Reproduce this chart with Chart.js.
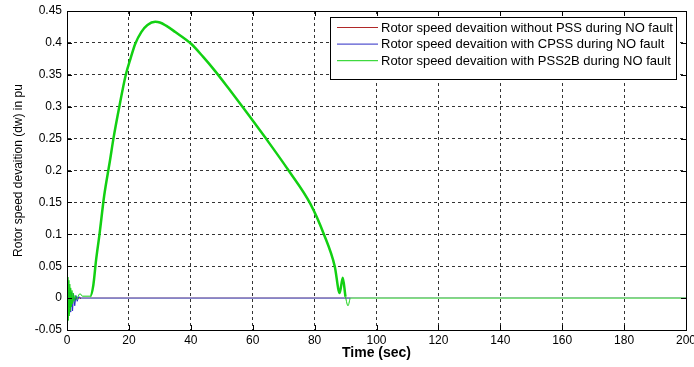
<!DOCTYPE html>
<html>
<head>
<meta charset="utf-8">
<script src="https://cdn.jsdelivr.net/npm/chart.js@4.4.1/dist/chart.umd.min.js"></script>
<style>
  html, body { margin: 0; padding: 0; background: #fff; }
  #wrap { width: 694px; height: 367px; }
</style>
</head>
<body>
<div id="wrap"><canvas id="speedChart" width="694" height="367"></canvas></div>
<script>
// tick labels
const xTickLabels = ['0', '20', '40', '60', '80', '100', '120', '140', '160', '180', '200'];
const yTickLabels = ['-0.05', '0', '0.05', '0.1', '0.15', '0.2', '0.25', '0.3', '0.35', '0.4', '0.45'];

const seriesNames = [
  'Rotor speed devaition without PSS during NO fault',
  'Rotor speed devaition with CPSS during NO fault',
  'Rotor speed devaition with PSS2B during NO fault'
];

// without PSS (hidden under the others)
const noPssTime = [0, 0.5, 1, 1.5, 2, 3, 200];
const noPssDev  = [0, 0.004, -0.004, 0.002, -0.002, 0, 0];

// CPSS
const cpssTime = [0, 0.3, 0.6, 0.9, 1.2, 1.5, 1.8, 2.1, 2.5, 2.9, 3.3, 3.8, 4.5, 200];
const cpssDev  = [0, 0.012, -0.015, 0.01, -0.022, 0.009, -0.02, 0.007, -0.012, 0.004, -0.005, 0.002, 0, 0];

// PSS2B
const pss2bTime = [0, 0.15, 0.3, 0.45, 0.6, 0.75, 0.9, 1.05, 1.2, 1.4, 1.6, 1.8, 2.0, 2.3, 2.6, 3.0, 3.5, 4.2, 5, 7.5,
  8.5, 9.4, 10.5, 12, 13.9, 15, 16.9, 19, 20.5, 22, 24, 26, 28.5, 30, 32, 35, 40, 44, 48, 52, 57, 64, 71.6, 78.6,
  83, 86.5, 88.1, 89.1, 90, 90.8, 91.6, 200];
const pss2bDev  = [0, -0.045, 0.033, -0.035, 0.028, -0.028, 0.022, -0.02, 0.016, -0.014, 0.012, -0.009, 0.008, -0.005, 0.004, -0.002, 0.002, 0.007, 0.003, 0.003,
  0.02, 0.06, 0.1, 0.16, 0.216, 0.25, 0.3, 0.35, 0.375, 0.398, 0.417, 0.428, 0.433, 0.432, 0.427, 0.417, 0.399, 0.378, 0.355, 0.33, 0.298, 0.252, 0.2, 0.148,
  0.1, 0.05, 0.008, 0.032, 0.002, -0.012, 0, 0];

const colors = ['#b02828', '#2a2ac4', '#12d012'];
const fadedColors = ['#c06060', '#8484c8', '#80e080'];

const toPoints = (xs, ys) => xs.map((x, i) => ({ x: x, y: ys[i] }));

// box around plot, inward tick marks and legend inside the axes
const framePlugin = {
  id: 'frame',
  afterDraw(chart) {
    const { ctx, chartArea: a, scales } = chart;
    ctx.save();
    ctx.strokeStyle = '#000';
    ctx.lineWidth = 1;
    ctx.setLineDash([]);
    ctx.strokeRect(Math.round(a.left) + 0.5, Math.round(a.top) + 0.5,
      Math.round(a.right - a.left), Math.round(a.bottom - a.top));
    ctx.beginPath();
    scales.x.ticks.forEach(t => {
      const px = Math.round(scales.x.getPixelForValue(t.value)) + 0.5;
      ctx.moveTo(px, a.bottom); ctx.lineTo(px, a.bottom - 5);
      ctx.moveTo(px, a.top); ctx.lineTo(px, a.top + 5);
    });
    scales.y.ticks.forEach(t => {
      const py = Math.round(scales.y.getPixelForValue(t.value)) + 0.5;
      ctx.moveTo(a.left, py); ctx.lineTo(a.left + 5, py);
      ctx.moveTo(a.right, py); ctx.lineTo(a.right - 5, py);
    });
    ctx.stroke();

    // legend
    const boxL = 330.5, boxT = 17.5, boxW = 346, boxH = 62;
    ctx.fillStyle = '#fff';
    ctx.fillRect(boxL, boxT, boxW, boxH);
    ctx.strokeStyle = '#000';
    ctx.strokeRect(boxL, boxT, boxW, boxH);
    ctx.font = '13px "Liberation Sans", Arial, sans-serif';
    ctx.textBaseline = 'middle';
    ctx.fillStyle = '#000';
    seriesNames.forEach((name, i) => {
      const y = 27.5 + i * 16.6;
      ctx.strokeStyle = colors[i];
      ctx.beginPath();
      ctx.moveTo(337, y); ctx.lineTo(378, y);
      ctx.stroke();
      ctx.fillText(name, 381, y + 0.5);
    });
    ctx.restore();
  }
};

Chart.defaults.font.family = '"Liberation Sans", Arial, sans-serif';
Chart.defaults.font.size = 12;
Chart.defaults.color = '#000';

new Chart(document.getElementById('speedChart').getContext('2d'), {
  type: 'line',
  data: {
    datasets: [
      {
        label: seriesNames[0],
        data: toPoints(noPssTime, noPssDev),
        borderColor: colors[0],
        borderWidth: 1,
        order: 2
      },
      {
        label: seriesNames[1],
        data: toPoints(cpssTime, cpssDev),
        borderColor: colors[1],
        borderWidth: 1,
        order: 1,
        segment: {
          borderColor: c => c.p0.parsed.x >= 4.5 ? fadedColors[1] : colors[1],
          borderWidth: c => c.p0.parsed.x >= 4.5 ? 1.6 : 1
        }
      },
      {
        label: seriesNames[2],
        data: toPoints(pss2bTime, pss2bDev),
        borderColor: colors[2],
        borderWidth: 1,
        order: 0,
        cubicInterpolationMode: 'monotone',
        segment: {
          borderColor: c => c.p0.parsed.x >= 91.6 ? fadedColors[2] : colors[2],
          borderWidth: c => (c.p0.parsed.x >= 7 && c.p0.parsed.x < 90) ? 2.5 : (c.p0.parsed.x >= 91.6 ? 1.6 : 1)
        }
      }
    ]
  },
  options: {
    responsive: false,
    animation: false,
    elements: { point: { radius: 0 }, line: { tension: 0 } },
    layout: { padding: { left: 0, right: 8, top: 11, bottom: 0 } },
    plugins: {
      legend: { display: false },
      tooltip: { enabled: false }
    },
    scales: {
      x: {
        type: 'linear',
        min: 0,
        max: 200,
        ticks: {
          stepSize: 20,
          padding: 3,
          maxRotation: 0,
          callback: (v, i) => xTickLabels[i]
        },
        grid: { color: '#333', drawTicks: false },
        border: { color: '#000', dash: [3, 3] },
        title: {
          display: true,
          text: 'Time (sec)',
          font: { weight: 'bold', size: 14 },
          padding: { top: 0, bottom: 5 }
        },
        afterFit: s => { s.height = 37; s.paddingLeft = 0; s.paddingRight = 0; }
      },
      y: {
        min: -0.05,
        max: 0.45,
        ticks: {
          stepSize: 0.05,
          padding: 5,
          callback: (v, i) => yTickLabels[i]
        },
        grid: { color: '#333', drawTicks: false },
        border: { color: '#000', dash: [3, 3] },
        title: {
          display: true,
          text: 'Rotor speed devaition (dw) in pu',
          padding: { top: 11, bottom: 0 }
        },
        afterFit: s => { s.width = 67; s.paddingTop = 0; s.paddingBottom = 0; }
      }
    }
  },
  plugins: [framePlugin]
});
</script>
</body>
</html>
